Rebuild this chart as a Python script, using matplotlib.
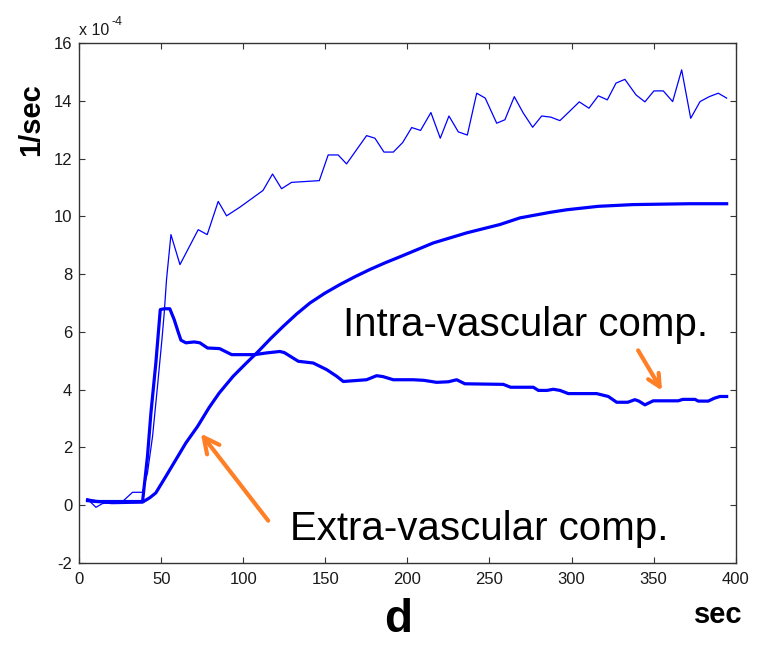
import matplotlib
matplotlib.use('Agg')
import matplotlib.pyplot as plt

plt.rcParams['font.family'] = ['Liberation Sans', 'DejaVu Sans']
plt.rcParams['axes.unicode_minus'] = False

# values, y in units of 1e-4 1/sec
t_total = [5.1, 10.2, 14.2, 26.4, 32.5, 38.6, 41.6, 44.7, 47.7, 50.4, 51.8, 53.2,
           55.9, 61.4, 72.5, 78, 84.7, 89.8, 97.9, 112, 117.8, 123.3, 129.4, 146.3,
           151.7, 157.8, 162.9, 175.1, 180.2, 185.7, 191.4, 197.1, 202.6, 208, 214.3,
           220, 225.3, 231, 236.5, 242.2, 247.4, 254.4, 259.4, 265.1, 270.6, 276.3,
           281.8, 287.4, 292.9, 298.6, 304.7, 310.6, 316.3, 321.8, 327.1, 332.5, 339.3,
           344.7, 350.2, 355.9, 361.6, 367.1, 372.6, 378.3, 383.9, 389.4, 394.5]
total = [0.2, -0.08, 0.05, 0.12, 0.44, 0.44, 1.11, 2.38, 4.11, 5.73, 6.65, 7.81,
         9.37, 8.33, 9.54, 9.37, 10.52, 10.02, 10.32, 10.9, 11.47, 10.96, 11.18, 11.24,
         12.13, 12.13, 11.82, 12.8, 12.71, 12.23, 12.23, 12.56, 13.08, 12.98, 13.6,
         12.71, 13.48, 12.93, 12.82, 14.27, 14.1, 13.23, 13.35, 14.15, 13.58, 13.09,
         13.48, 13.44, 13.32, 13.63, 13.97, 13.75, 14.18, 14.04, 14.62, 14.75, 14.21,
         13.97, 14.35, 14.35, 13.98, 15.08, 13.4, 13.98, 14.15, 14.27, 14.1]

t_intra = [5.1, 10, 26.4, 38.6, 41.6, 43.7, 46.7, 49.4, 51.8, 55.2, 57.9, 60.5, 62,
           65, 70.1, 73.5, 78.2, 85.5, 92.9, 107, 114.2, 122.3, 125, 133.5, 142.6,
           150.8, 156.9, 160.9, 175.1, 181.2, 185, 191.4, 203.5, 210, 217.8, 225, 230,
           235, 258.4, 262.9, 276.7, 279.8, 285, 288.9, 293, 298, 315.3, 322.4, 327.5,
           334.3, 338.6, 341, 344.7, 349.8, 365, 367.8, 375.2, 377.2, 383.3, 387,
           390.4, 394.5]
intra = [0.18, 0.12, 0.12, 0.12, 1.69, 3.19, 4.92, 6.77, 6.8, 6.8, 6.42, 5.96, 5.71,
         5.62, 5.65, 5.62, 5.44, 5.42, 5.21, 5.21, 5.27, 5.32, 5.28, 4.98, 4.92,
         4.69, 4.46, 4.28, 4.34, 4.48, 4.45, 4.34, 4.34, 4.32, 4.25, 4.27, 4.34,
         4.2, 4.18, 4.08, 4.08, 3.97, 3.97, 4.01, 3.97, 3.86, 3.86, 3.76, 3.56,
         3.56, 3.65, 3.6, 3.47, 3.61, 3.61, 3.66, 3.66, 3.6, 3.6, 3.7, 3.76, 3.76]

t_extra = [5.1, 20, 38.6, 43, 46.7, 52.8, 58.9, 65, 72.1, 79.2, 85.3, 93.8, 101.5,
           109.1, 116.7, 124.3, 132.5, 140.6, 149.7, 158.9, 168, 177.1, 186.3, 195.4,
           215.7, 236.1, 256.4, 268.6, 286.8, 297, 316.3, 337.6, 372.1, 394.5]
extra = [0.15, 0.08, 0.1, 0.25, 0.42, 0.99, 1.57, 2.15, 2.72, 3.38, 3.88, 4.46, 4.9,
         5.32, 5.77, 6.19, 6.62, 7.0, 7.34, 7.64, 7.91, 8.16, 8.39, 8.6,
         9.08, 9.43, 9.72, 9.95, 10.14, 10.23, 10.35, 10.41, 10.44, 10.44]

x_ticks = [0, 50, 100, 150, 200, 250, 300, 350, 400]
y_ticks = [-2, 0, 2, 4, 6, 8, 10, 12, 14, 16]

blue = '#0000FF'
orange = '#FF7F27'

fig = plt.figure(figsize=(7.66, 6.45), dpi=100)
ax = fig.add_axes([0.1034, 0.1276, 0.857, 0.8053])

ax.plot(t_total, total, color=blue, lw=0.9)
ax.plot(t_intra, intra, color=blue, lw=2.3)
ax.plot(t_extra, extra, color=blue, lw=2.3)

ax.set_xlim(0, 400)
ax.set_ylim(-2, 16)
ax.set_xticks(x_ticks)
ax.set_yticks(y_ticks)
ax.tick_params(direction='in', length=4, top=True, right=True,
               labelsize=12, labelcolor='#1a1a1a', color='#333333')
ax.tick_params(axis='x', pad=7)
ax.tick_params(axis='y', pad=5)
for s in ax.spines.values():
    s.set_color('#333333')
    s.set_linewidth(1.0)

# annotations
ax.text(160.7, 5.84, 'Intra-vascular comp.', fontsize=29, va='baseline')
ax.text(128.4, -1.2, 'Extra-vascular comp.', fontsize=29, va='baseline')

ax.annotate('', xy=(73.1, 2.55), xytext=(116.2, -0.62),
            arrowprops=dict(arrowstyle='->', color=orange, lw=3, mutation_scale=28))
ax.annotate('', xy=(356, 3.88), xytext=(339.7, 5.44),
            arrowprops=dict(arrowstyle='->', color=orange, lw=3, mutation_scale=22))

# axis multiplier, written like the MATLAB one
fig.text(79 / 766, 1 - 35 / 645, 'x 10', fontsize=11.5, color='#1a1a1a', va='baseline')
fig.text(112 / 766, 1 - 25 / 645, '-4', fontsize=9, color='#1a1a1a', va='baseline')

fig.text(31 / 766, 1 - 120 / 645, '1/sec', fontsize=21, fontweight='bold',
         rotation=90, ha='center', va='center')
fig.text(398 / 766, 1 - 620 / 645, 'd', fontsize=33, fontweight='bold',
         ha='center', va='center')
fig.text(718 / 766, 1 - 615 / 645, 'sec', fontsize=21, fontweight='bold',
         ha='center', va='center')

fig.savefig('out.png', dpi=100)
